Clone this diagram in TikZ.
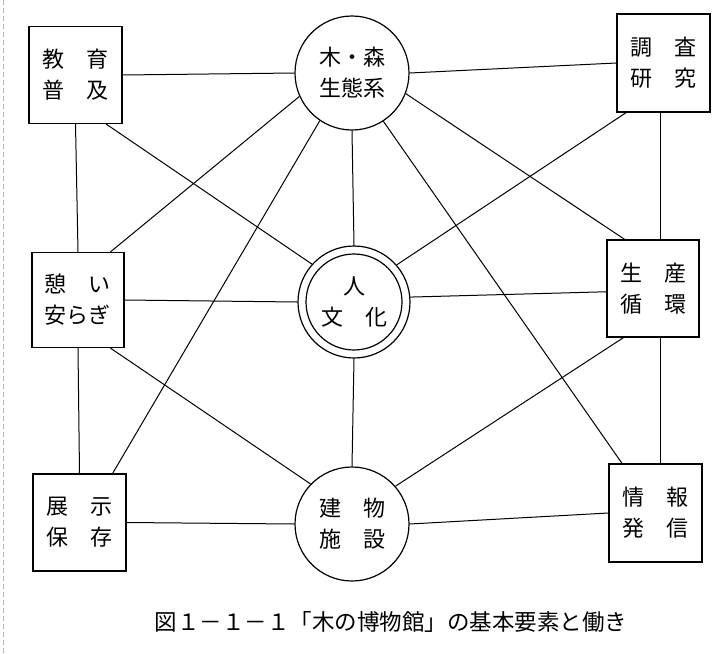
\documentclass[tikz,border=0pt]{standalone}
\usepackage{fontspec}
\newfontfamily\cjk{Noto Sans CJK JP}
\usetikzlibrary{calc}
\begin{document}
\begin{tikzpicture}[x=1pt,y=-1pt,
  lbl/.style={font=\cjk\fontsize{22}{31}\selectfont, align=center},
  box/.style={lbl, draw, line width=1.2pt, minimum width=93pt, minimum height=97pt, inner sep=0pt},
  circ/.style={lbl, draw, circle, line width=1.2pt, minimum size=114pt, inner sep=0pt},
  link/.style={line width=1pt}]
\useasboundingbox (0,0) rectangle (713,654);
\draw[gray!55, line width=0.6pt, dash pattern=on 5pt off 3pt] (3,0) -- (3,654);

\node[box] (kyoiku) at (75.5,75) {教　育\\普　及};
\node[circ] (mori) at (352,73) {木・森\\生態系};
\node[box, minimum height=98pt] (chosa) at (663.5,63) {調　査\\研　究};
\node[box, minimum width=92pt, minimum height=95pt] (ikoi) at (78,300) {憩　い\\安らぎ};
\node[circ, minimum size=112pt] (hito) at (354,302) {人\\文　化};
\node[draw, circle, line width=1.2pt, minimum size=96pt, inner sep=0pt] (hitoin) at (hito.center) {};
\node[box, minimum width=92pt] (seisan) at (653,288.5) {生　産\\循　環};
\node[box] (tenji) at (79.5,522.5) {展　示\\保　存};
\node[circ] (tatemono) at (352,524) {建　物\\施　設};
\node[box, minimum height=98pt] (jouhou) at (655.5,513) {情　報\\発　信};

\coordinate (rx) at (660,0);

\draw[link] (kyoiku.east) -- (mori.west);
\draw[link] (mori.east) -- (chosa.west);
\draw[link] (kyoiku.south) -- (ikoi.north);
\draw[link] (ikoi.south) -- (tenji.north);
\draw[link] (chosa.south -| rx) -- (seisan.north -| rx);
\draw[link] (seisan.south -| rx) -- (jouhou.north -| rx);
\draw[link] (kyoiku.-58) -- (hito.138);
\draw[link] (chosa.233) -- (hito.41);
\draw[link] (mori.south) -- (hito.north);
\draw[link] (mori.204) -- (ikoi.56);
\draw[link] (mori.236) -- (tenji.56);
\draw[link] (mori.-21) -- (seisan.120);
\draw[link] (mori.-57) -- (jouhou.124);
\draw[link] (ikoi.east) -- (hito.west);
\draw[link] (hito.5) -- (seisan.184);
\draw[link] (hito.south) -- (tatemono.north);
\draw[link] (ikoi.-56) -- (tatemono.136);
\draw[link] (seisan.239) -- (tatemono.41);
\draw[link] (tenji.east) -- (tatemono.west);
\draw[link] (tatemono.east) -- (jouhou.west);

\node[font=\cjk\fontsize{22.5}{24}\selectfont] (cap) at (391,622) {図１－１－１「木の博物館」の基本要素と働き};
\end{tikzpicture}
\end{document}
